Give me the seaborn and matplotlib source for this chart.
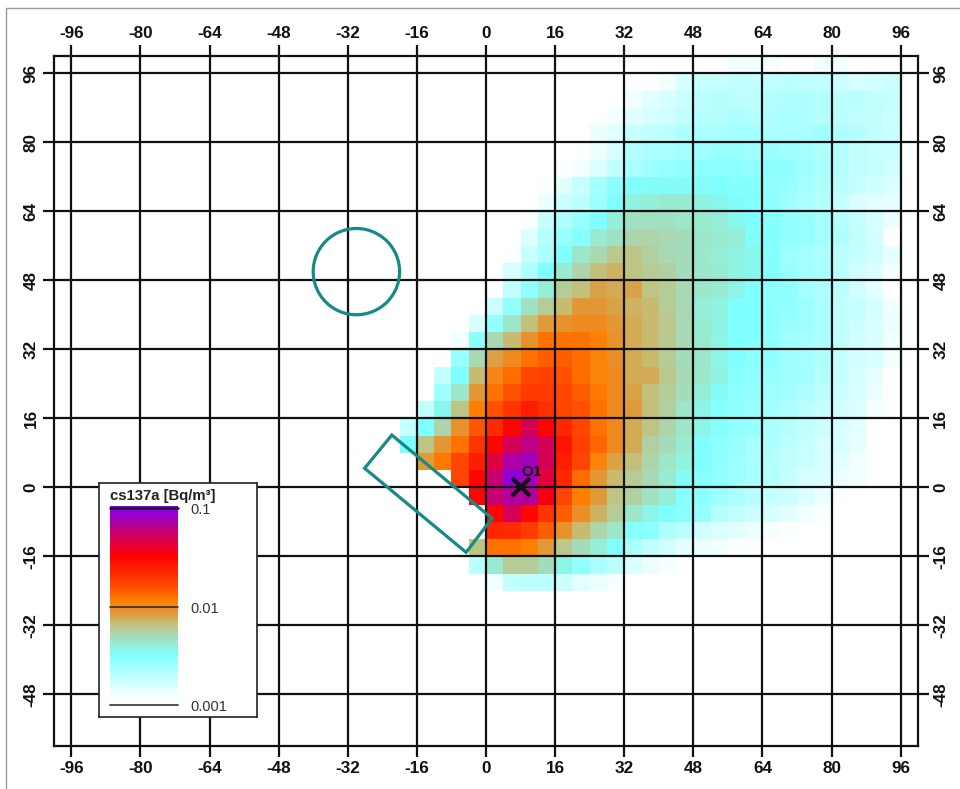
import matplotlib
matplotlib.use('Agg')
import matplotlib.pyplot as plt
import matplotlib.patches as patches
from matplotlib.colors import LinearSegmentedColormap
import numpy as np
import pandas as pd
import seaborn as sns

W, H = 960, 789

# tick values, both axes
x_ticks = [-96, -80, -64, -48, -32, -16, 0, 16, 32, 48, 64, 80, 96]
y_ticks = [-48, -32, -16, 0, 16, 32, 48, 64, 80, 96]

# cell edges of the raster (4 x 4 cells)
x_cells = list(range(-100, 100, 4))
y_cells = list(range(96, -64, -4))

# colour position of the cells: 0 = 0.001, 50 = 0.01, 100 = 0.1
# row lower edge -> (left edge of first cell, cell values)
row_96 = (56, [5, 5, 4, 0, 0, 5, 4])
row_92 = (32, [2, 3, 5, 10, 13, 13, 14, 14, 14, 15, 14, 14, 12, 10, 11, 12])
row_88 = (32, [5, 8, 10, 12, 15, 16, 15, 15, 16, 17, 17, 16, 15, 15, 14, 13])
row_84 = (28, [4, 8, 10, 11, 14, 16, 16, 17, 16, 17, 18, 17, 16, 15, 14, 14, 12])
row_80 = (24, [6, 8, 13, 14, 15, 17, 18, 18, 19, 19, 18, 18, 18, 20, 17, 16, 14, 12])
row_76 = (20, [3, 6, 10, 16, 18, 18, 19, 20, 21, 21, 20, 21, 20, 19, 17, 16, 14, 13, 12, 3])
row_72 = (16, [3, 5, 9, 14, 18, 20, 21, 22, 23, 23, 23, 22, 23, 22, 20, 18, 16, 14, 13, 11])
row_68 = (12, [2, 8, 13, 19, 23, 25, 26, 26, 26, 26, 25, 24, 24, 22, 21, 19, 17, 15, 13, 11, 9])
row_64 = (12, [6, 12, 15, 20, 25, 29, 30, 31, 31, 29, 27, 26, 24, 22, 20, 18, 16, 13, 9, 8, 7])
row_60 = (8, [2, 13, 17, 21, 25, 30, 33, 33, 33, 32, 31, 30, 27, 25, 24, 22, 21, 19, 16, 13, 10, 6])
row_56 = (8, [9, 16, 21, 24, 31, 33, 36, 36, 35, 34, 32, 31, 30, 26, 24, 22, 21, 19, 17, 14, 11, 0])
row_52 = (4, [3, 13, 18, 25, 32, 35, 39, 40, 37, 35, 34, 32, 30, 29, 27, 24, 20, 19, 17, 15, 13, 11, 7])
row_48 = (4, [10, 17, 25, 31, 36, 41, 43, 40, 38, 37, 34, 32, 31, 29, 27, 24, 21, 19, 18, 15, 11, 9, 4])
row_44 = (0, [3, 14, 22, 30, 38, 41, 45, 44, 45, 40, 38, 35, 32, 31, 28, 25, 23, 22, 19, 17, 15, 11, 7, 0])
row_40 = (0, [12, 22, 33, 38, 42, 47, 47, 45, 43, 42, 38, 35, 30, 29, 25, 25, 23, 22, 20, 18, 14, 13, 10, 5])
row_36 = (-4, [10, 22, 32, 41, 46, 48, 50, 50, 47, 44, 42, 39, 35, 31, 29, 25, 25, 23, 21, 20, 18, 14, 12, 10, 6])
row_32 = (-8, [5, 23, 35, 42, 48, 55, 55, 55, 53, 48, 44, 42, 39, 35, 31, 28, 25, 24, 22, 20, 19, 17, 14, 11, 9, 5])
row_28 = (-8, [21, 35, 45, 50, 55, 58, 58, 56, 52, 49, 44, 42, 38, 34, 32, 28, 25, 23, 22, 20, 19, 17, 13, 11, 10, 5])
row_24 = (-12, [13, 25, 42, 51, 56, 62, 63, 60, 56, 52, 50, 44, 44, 39, 35, 32, 29, 24, 22, 21, 20, 19, 16, 13, 10, 7])
row_20 = (-12, [20, 32, 47, 55, 60, 64, 64, 62, 58, 54, 50, 45, 41, 38, 34, 30, 26, 23, 22, 20, 19, 17, 15, 12, 10, 6])
row_16 = (-16, [14, 27, 40, 53, 60, 65, 70, 66, 62, 60, 55, 50, 46, 41, 37, 32, 28, 24, 22, 21, 19, 17, 15, 13, 11, 9, 4])
row_12 = (-20, [13, 25, 36, 48, 59, 67, 75, 85, 75, 68, 62, 55, 50, 44, 40, 36, 32, 28, 24, 22, 21, 18, 16, 14, 12, 10, 8])
row_8 = (-20, [25, 40, 47, 55, 65, 75, 85, 90, 85, 72, 63, 57, 50, 44, 37, 34, 31, 25, 23, 21, 18, 17, 15, 13, 10, 10, 7])
row_4 = (-16, [46, 54, 62, 70, 83, 93, 95, 85, 70, 62, 52, 45, 41, 36, 32, 29, 25, 22, 20, 18, 16, 14, 12, 10, 8, 5])
row_0 = (-8, [62, 75, 88, 98, 95, 82, 68, 56, 47, 42, 38, 35, 31, 26, 24, 22, 20, 18, 16, 13, 10, 9, 6, 5])
row_m4 = (-4, [75, 88, 92, 92, 78, 62, 53, 46, 40, 37, 33, 30, 24, 23, 20, 18, 16, 13, 12, 9, 6, 3])
row_m8 = (0, [75, 85, 75, 65, 58, 49, 43, 38, 32, 28, 25, 23, 21, 16, 14, 12, 10, 8, 5, 3])
row_m12 = (0, [68, 67, 64, 58, 48, 42, 36, 32, 24, 23, 17, 15, 11, 9, 8, 6, 4, 3])
row_m16 = (-4, [40, 55, 55, 53, 46, 39, 34, 30, 25, 18, 14, 11, 7, 6, 5, 3, 2])
row_m20 = (-4, [15, 31, 38, 38, 34, 28, 22, 18, 15, 9, 6, 4])
row_m24 = (0, [5, 14, 15, 15, 12, 8, 6, 4])

rows = {96: row_96, 92: row_92, 88: row_88, 84: row_84, 80: row_80, 76: row_76,
        72: row_72, 68: row_68, 64: row_64, 60: row_60, 56: row_56, 52: row_52,
        48: row_48, 44: row_44, 40: row_40, 36: row_36, 32: row_32, 28: row_28,
        24: row_24, 20: row_20, 16: row_16, 12: row_12, 8: row_8, 4: row_4,
        0: row_0, -4: row_m4, -8: row_m8, -12: row_m12, -16: row_m16,
        -20: row_m20, -24: row_m24}

# overlays
circle_centre = (-30, 50)
circle_radius = 10
box_corners = [(-21.8, 12.1), (-28.1, 4.4), (-4.6, -15.1), (1.4, -7.2)]
source_xy = (8, 0)
source_name = 'O1'

legend_title = 'cs137a [Bq/m³]'
legend_levels = [100, 50, 0]
legend_labels = ['0.1', '0.01', '0.001']

colour_stops = [(0, '#ffffff'), (3, '#fbffff'), (15, '#bbffff'), (20, '#9effff'), (25, '#7fffff'),
                (30, '#95eed8'), (35, '#a8d8b4'), (42, '#c8bb70'), (46, '#e09a3a'), (50, '#ee8a20'),
                (53, '#ff8000'), (60, '#ff5000'), (66, '#ff3000'), (76, '#ff0000'),
                (88, '#c80070'), (100, '#8800ee')]

cmap = LinearSegmentedColormap.from_list('dose', [(v / 100, c) for v, c in colour_stops], N=512)
TEAL = '#168a85'

grid = pd.DataFrame(0.0, index=y_cells, columns=x_cells)
for y, (x0, vals) in rows.items():
    for i, v in enumerate(vals):
        grid.loc[y, x0 + 4 * i] = v


def col_pos(x):
    return (np.asarray(x) + 100) / 4


def row_pos(y):
    return (100 - np.asarray(y)) / 4


def px_rect(left, top, right, bottom):
    return [left / W, 1 - bottom / H, (right - left) / W, (bottom - top) / H]


sns.set_theme(style='white')
plt.rcParams['font.family'] = ['Liberation Sans', 'DejaVu Sans']

fig = plt.figure(figsize=(W / 100, H / 100), dpi=100, facecolor='white')
ax = fig.add_axes(px_rect(54, 56, 918, 746))
sns.heatmap(grid, ax=ax, cmap=cmap, vmin=0, vmax=100, cbar=False,
            xticklabels=False, yticklabels=False)

ax.set_xlabel('')
ax.set_ylabel('')
ax.set_xticks(col_pos(x_ticks))
ax.set_xticklabels(x_ticks)
ax.set_yticks(row_pos(y_ticks))
ax.set_yticklabels(y_ticks, rotation=90, va='center')
ax.tick_params(axis='both', length=8, width=1.6, color='#111111', labelsize=12.3,
               labelcolor='#111111', pad=3, top=True, right=True, bottom=True, left=True,
               labeltop=True, labelright=True, labelbottom=True, labelleft=True)
for lab in ax.get_xticklabels() + ax.get_yticklabels():
    lab.set_fontweight('bold')
ax.grid(True, color='#111111', linewidth=1.6)
ax.set_axisbelow(False)
for s in ax.spines.values():
    s.set_visible(True)
    s.set_color('#111111')
    s.set_linewidth(1.6)

# circle and rectangle
ax.add_patch(patches.Circle((col_pos(circle_centre[0]), row_pos(circle_centre[1])),
                            circle_radius / 4, fill=False, edgecolor=TEAL, linewidth=2.3, zorder=5))
corners = [(col_pos(x), row_pos(y)) for x, y in box_corners]
ax.add_patch(patches.Polygon(corners, closed=True, fill=False, edgecolor=TEAL, linewidth=2.3, zorder=5))

# source
ax.plot(col_pos(source_xy[0]), row_pos(source_xy[1]), marker='x', color='#111111',
        markersize=13, markeredgewidth=3, zorder=6)
ax.text(col_pos(source_xy[0]) + 0.07, row_pos(source_xy[1]) - 0.5, source_name,
        fontsize=11, fontweight='bold', color='#111111', zorder=6, va='bottom', ha='left')

# legend box
leg_ax = fig.add_axes(px_rect(99, 483, 257, 717), zorder=10)
leg_ax.set_xticks([])
leg_ax.set_yticks([])
leg_ax.set_facecolor('white')
for s in leg_ax.spines.values():
    s.set_visible(True)
    s.set_color('#222222')
    s.set_linewidth(1.2)

# colour scale, 0.001 at y=705 and 0.1 at y=508 in pixels
cbar_ax = fig.add_axes(px_rect(110, 506, 178, 705), zorder=11)
scale = pd.DataFrame(np.linspace(101, 0, 200))
sns.heatmap(scale, ax=cbar_ax, cmap=cmap, vmin=0, vmax=100, cbar=False,
            xticklabels=False, yticklabels=False)
cbar_ax.set_xlabel('')
cbar_ax.set_ylabel('')
cbar_ax.axis('off')

for lev, lab in zip(legend_levels, legend_labels):
    py = 705 - lev * 1.967
    col = '#20103a' if lev == 100 else '#3a2a10' if lev == 50 else '#333333'
    lw = 1.8 if lev == 100 else 1.2
    fig.add_artist(plt.Line2D([110 / W, 178 / W], [1 - py / H] * 2, color=col, linewidth=lw, zorder=12))
    fig.text(190 / W, 1 - (py + 2) / H, lab, fontsize=10.5, color='#333333', va='center', ha='left', zorder=12)
fig.text(110 / W, 1 - 496 / H, legend_title, fontsize=10.7, fontweight='bold', color='#222222',
         va='center', ha='left', zorder=12)

# window edge on the left and top
fig.add_artist(plt.Line2D([6 / W, 6 / W], [0, 1 - 8 / H], color='#9a9a9a', linewidth=1))
fig.add_artist(plt.Line2D([6 / W, 1], [1 - 8 / H, 1 - 8 / H], color='#9a9a9a', linewidth=1))

fig.savefig('out.png', dpi=100)
